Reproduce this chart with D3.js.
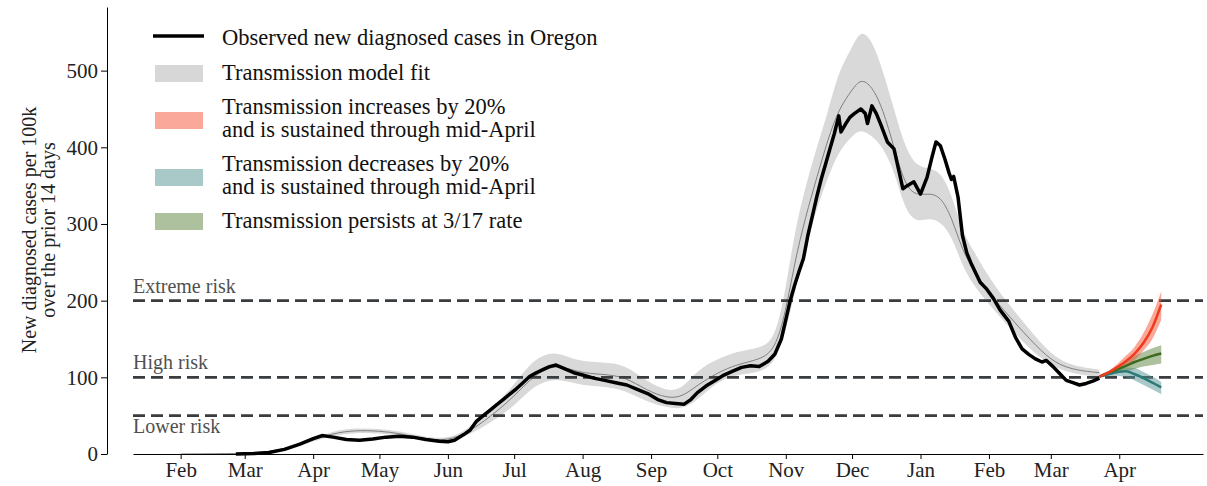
<!DOCTYPE html>
<html>
<head>
<meta charset="utf-8">
<script src="https://cdn.jsdelivr.net/npm/d3@7"></script>
<style>
  html, body { margin: 0; padding: 0; background: #fff; }
  svg { display: block; font-family: 'Liberation Serif', 'DejaVu Serif', serif; }
</style>
</head>
<body>
<div id="chart"></div>
<script>
// observed 14-day case rate per 100k (Oregon)
const obsDates = ['2020-02-26','2020-03-05','2020-03-12','2020-03-19','2020-03-26','2020-04-01','2020-04-05','2020-04-10','2020-04-16','2020-04-22','2020-04-28','2020-05-04','2020-05-10','2020-05-16','2020-05-22','2020-05-28','2020-06-01','2020-06-04','2020-06-08','2020-06-11','2020-06-14','2020-06-17','2020-06-20','2020-06-23','2020-06-26','2020-06-29','2020-07-02','2020-07-05','2020-07-08','2020-07-11','2020-07-14','2020-07-17','2020-07-20','2020-07-24','2020-07-28','2020-08-01','2020-08-06','2020-08-11','2020-08-16','2020-08-21','2020-08-26','2020-08-31','2020-09-04','2020-09-08','2020-09-12','2020-09-16','2020-09-19','2020-09-22','2020-09-26','2020-09-30','2020-10-04','2020-10-08','2020-10-12','2020-10-16','2020-10-20','2020-10-24','2020-10-27','2020-10-30','2020-11-01','2020-11-03','2020-11-05','2020-11-07','2020-11-09','2020-11-11','2020-11-13','2020-11-15','2020-11-17','2020-11-19','2020-11-21','2020-11-23','2020-11-25','2020-11-26','2020-11-28','2020-11-30','2020-12-02','2020-12-05','2020-12-07','2020-12-08','2020-12-10','2020-12-12','2020-12-14','2020-12-17','2020-12-20','2020-12-24','2020-12-26','2020-12-29','2021-01-01','2021-01-04','2021-01-06','2021-01-08','2021-01-10','2021-01-12','2021-01-14','2021-01-15','2021-01-16','2021-01-18','2021-01-20','2021-01-22','2021-01-24','2021-01-28','2021-01-31','2021-02-03','2021-02-06','2021-02-10','2021-02-13','2021-02-16','2021-02-19','2021-02-22','2021-02-25','2021-02-27','2021-03-02','2021-03-05','2021-03-08','2021-03-11','2021-03-14','2021-03-17','2021-03-20','2021-03-23'];
const obsValues = [0,0.5,2,6,13,20,24,22,19,18,19.5,22,23,22,19,16.5,16,18,25,31,43,50,57,64,71,78,85,93,101,106,110,114,116,111,106,103,99,96,93,90,84,78,71,67,66,65,71,80,89,96,103,108,113,115,114,121,130,150,175,200,220,238,255,285,310,335,358,378,398,418,441,420,430,439,444,450,444,431,454,444,430,407,398,346,350,355,339,361,385,407,402,385,366,358,362,335,285,262,248,224,215,203,188,173,152,137,130,124,120,122,114,105,96,93,90,92,95,99];

// transmission model fit with uncertainty band
const fitDates = ['2020-02-01','2020-03-01','2020-03-15','2020-04-01','2020-04-10','2020-04-20','2020-05-01','2020-05-10','2020-05-20','2020-06-01','2020-06-10','2020-06-20','2020-07-01','2020-07-10','2020-07-20','2020-07-30','2020-08-10','2020-08-20','2020-08-30','2020-09-08','2020-09-15','2020-09-22','2020-10-01','2020-10-10','2020-10-20','2020-10-27','2020-11-01','2020-11-05','2020-11-10','2020-11-15','2020-11-20','2020-11-25','2020-12-01','2020-12-05','2020-12-10','2020-12-15','2020-12-20','2020-12-25','2020-12-30','2021-01-05','2021-01-10','2021-01-15','2021-01-20','2021-01-25','2021-02-01','2021-02-10','2021-02-20','2021-03-01','2021-03-10','2021-03-23'];
const fitMid = [0,0.5,3,18,27,31,30,27,20,17,28,48,75,103,118,106,104,101,83,73,74,90,106,117,123,135,185,250,310,360,410,450,475,490,480,450,400,350,337,340,336,310,265,240,210,180,148,122,110,106];
const fitLo  = [0,0,2,16,24,28,27,24,18,15,24,40,62,90,100,90,88,84,68,61,58,70,95,104,106,118,160,210,270,320,360,395,415,424,415,400,370,318,302,308,303,285,245,220,195,166,135,115,105,100];
const fitHi  = [0,1,4,20,30,34,33,30,23,19,32,56,90,125,135,120,120,117,95,82,84,110,124,134,138,148,215,290,350,400,445,500,530,554,540,500,450,400,375,373,368,340,290,265,230,195,160,130,115,110];

// scenario projections from 3/23
const scenDates = ['2021-03-23','2021-03-27','2021-03-31','2021-04-04','2021-04-08','2021-04-12','2021-04-16','2021-04-20'];
const incMid = [101,106,113,121,131,145,165,195];
const incLo  = [100,104,109,115,123,135,150,175];
const incHi  = [102,108,117,128,140,158,182,212];
const decMid = [101,104,107,108,104,99,93,87];
const decLo  = [100,101,102,100,96,90,84,78];
const decHi  = [102,107,111,113,112,107,101,94];
const perMid = [101,106,110,115,120,124,128,131];
const perLo  = [100,103,105,108,111,114,116,118];
const perHi  = [102,108,115,121,128,133,138,142];

// risk thresholds
const riskLevels = [200, 100, 50];
const riskLabels = ['Extreme risk', 'High risk', 'Lower risk'];

const monthTicks = ['2020-02-01','2020-03-01','2020-04-01','2020-05-01','2020-06-01','2020-07-01','2020-08-01','2020-09-01','2020-10-01','2020-11-01','2020-12-01','2021-01-01','2021-02-01','2021-03-01','2021-04-01'];
const yTicks = [0, 100, 200, 300, 400, 500];

const legendLabels = [
  ['Observed new diagnosed cases in Oregon'],
  ['Transmission model fit'],
  ['Transmission increases by 20%', 'and is sustained through mid-April'],
  ['Transmission decreases by 20%', 'and is sustained through mid-April'],
  ['Transmission persists at 3/17 rate']
];

const parse = d3.timeParse('%Y-%m-%d');
const width = 1207, height = 486;

const svg = d3.select('#chart').append('svg')
  .attr('width', width).attr('height', height);

const x = d3.scaleTime()
  .domain([new Date(2020, 0, 10, 10), new Date(2021, 4, 8, 22)])
  .range([133, 1203]);
const y = d3.scaleLinear().domain([0, 583]).range([454, 7]);

const obs = obsDates.map((d, i) => ({ date: parse(d), v: obsValues[i] }));
const fit = fitDates.map((d, i) => ({ date: parse(d), v: fitMid[i], lo: fitLo[i], hi: fitHi[i] }));
const scen = (mid, lo, hi) => scenDates.map((d, i) => ({ date: parse(d), v: mid[i], lo: lo[i], hi: hi[i] }));

const area = d3.area().x(d => x(d.date)).y0(d => y(d.lo)).y1(d => y(d.hi));
const line = d3.line().x(d => x(d.date)).y(d => y(d.v));

// model fit band + line
svg.append('path').datum(fit)
  .attr('d', area.curve(d3.curveBasis))
  .attr('fill', '#d9d9d9');
svg.append('path').datum(fit)
  .attr('d', line.curve(d3.curveBasis))
  .attr('fill', 'none').attr('stroke', '#7f7f7f').attr('stroke-width', 1);

// risk lines
riskLevels.forEach((r, i) => {
  svg.append('line')
    .attr('x1', 133).attr('x2', 1203)
    .attr('y1', y(r)).attr('y2', y(r))
    .attr('stroke', '#393d40').attr('stroke-width', 2.6)
    .attr('stroke-dasharray', '12,6');
  svg.append('text')
    .attr('x', 133)
    .attr('y', r === 50 ? y(r) + 17 : y(r) - 8)
    .attr('fill', '#505050')
    .attr('font-size', 20)
    .text(riskLabels[i]);
});

// observed
svg.append('path').datum(obs)
  .attr('d', line.curve(d3.curveLinear))
  .attr('fill', 'none').attr('stroke', '#000').attr('stroke-width', 3.5)
  .attr('stroke-linejoin', 'round');

// scenarios
const scenarios = [
  { data: scen(decMid, decLo, decHi), band: '#539391', stroke: '#2e7a78' },
  { data: scen(perMid, perLo, perHi), band: '#5d833f', stroke: '#3d6b1e' },
  { data: scen(incMid, incLo, incHi), band: '#f55135', stroke: '#f03b1d' }
];
scenarios.forEach(s => {
  svg.append('path').datum(s.data)
    .attr('d', area.curve(d3.curveMonotoneX))
    .attr('fill', s.band).attr('fill-opacity', 0.5);
});
scenarios.forEach(s => {
  svg.append('path').datum(s.data)
    .attr('d', line.curve(d3.curveMonotoneX))
    .attr('fill', 'none').attr('stroke', s.stroke).attr('stroke-width', 2.5);
});

// axes
const xAxis = svg.append('g')
  .attr('transform', 'translate(0,454)')
  .call(d3.axisBottom(x)
    .tickValues(monthTicks.map(parse))
    .tickFormat(d3.timeFormat('%b'))
    .tickSizeInner(5).tickSizeOuter(0).tickPadding(6));
const yAxis = svg.append('g')
  .attr('transform', 'translate(107,0)')
  .call(d3.axisLeft(y).tickValues(yTicks).tickSizeInner(6).tickSizeOuter(0).tickPadding(3));
[xAxis, yAxis].forEach(g => {
  g.attr('font-family', null).attr('font-size', 21);
  g.selectAll('text').attr('fill', '#222');
  g.selectAll('path, line').attr('stroke', '#000');
});
xAxis.selectAll('text').attr('dy', '0.58em');
yAxis.selectAll('text').attr('dy', '0.33em');

// y label
const yl = svg.append('text')
  .attr('transform', 'translate(36,230) rotate(-90)')
  .attr('text-anchor', 'middle')
  .attr('font-size', 20).attr('fill', '#222');
yl.append('tspan').attr('x', 0).attr('y', 0).text('New diagnosed cases per 100k');
yl.append('tspan').attr('x', 0).attr('y', 19).text('over the prior 14 days');

// legend
const legendSwatch = ['line', '#d7d7d7', '#faa89a', '#a9c9c8', '#aec19f'];
const legendBase = [45, 80, 114, 171, 228];
const lg = svg.append('g');
legendLabels.forEach((lines, i) => {
  const b = legendBase[i];
  const mid = lines.length > 1 ? b + 6 : b - 7;
  if (legendSwatch[i] === 'line') {
    lg.append('line').attr('x1', 153).attr('x2', 204).attr('y1', mid - 2).attr('y2', mid - 2)
      .attr('stroke', '#000').attr('stroke-width', 3.5);
  } else {
    lg.append('rect').attr('x', 155).attr('y', mid - 8).attr('width', 48).attr('height', 17)
      .attr('fill', legendSwatch[i]);
  }
  lines.forEach((t, j) => {
    lg.append('text').attr('x', 222).attr('y', b + j * 23)
      .attr('font-size', 22.5).attr('fill', '#111').text(t);
  });
});
</script>
</body>
</html>
